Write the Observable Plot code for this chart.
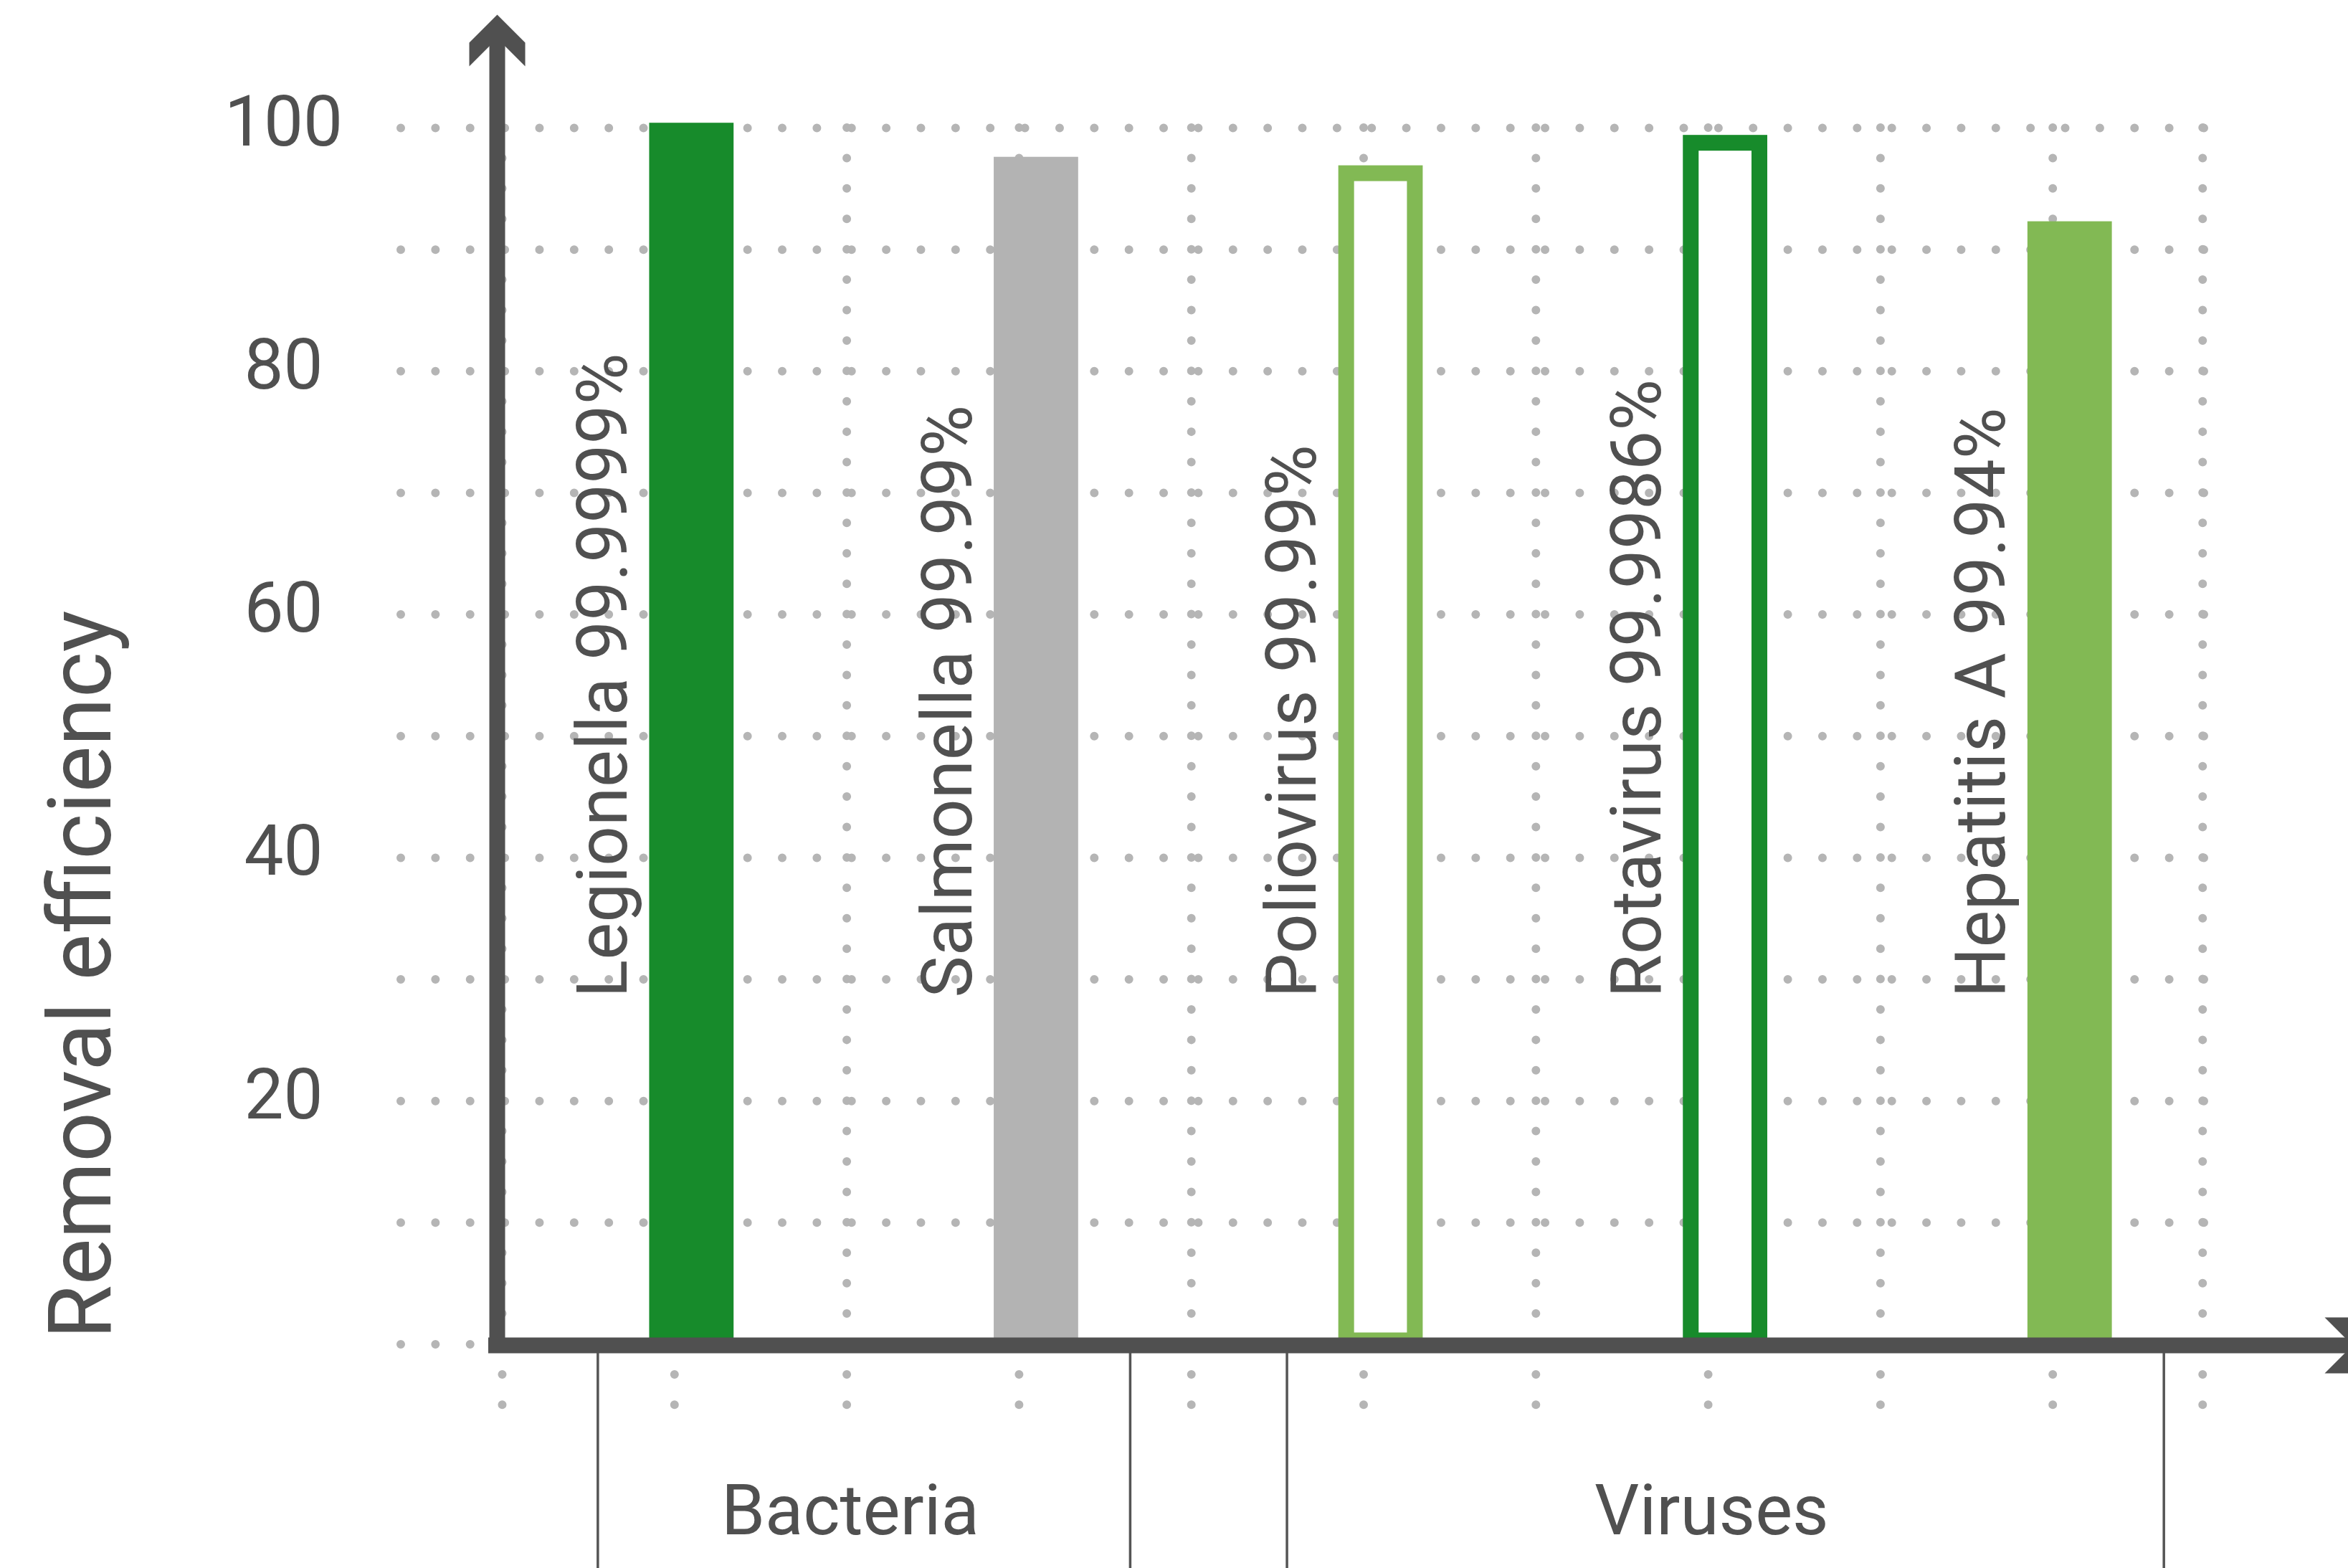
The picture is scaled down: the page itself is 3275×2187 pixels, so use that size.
<!DOCTYPE html>
<html>
<head>
<meta charset="utf-8">
<script src="https://cdn.jsdelivr.net/npm/d3@7"></script>
<script src="https://cdn.jsdelivr.net/npm/@observablehq/plot@0.6"></script>
<style>
  html, body { margin: 0; padding: 0; background: #fff; overflow: hidden; }
  #chart svg { display: block; overflow: hidden; }
</style>
</head>
<body>
<div id="chart"></div>
<script>
// ---------------- data ----------------
const organisms      = ["Legionella", "Salmonella", "Poliovirus", "Rotavirus", "Hepatitis A"];
const efficiencyText = ["99.9999%", "99.99%", "99.99%", "99.9986%", "99.94%"];
const groupOf        = ["Bacteria", "Bacteria", "Viruses", "Viruses", "Viruses"];
const barHeight      = [100.4, 97.6, 96.9, 99.4, 92.3];
const barStyle       = ["filled", "filled", "outline", "outline", "filled"];
const barColor       = ["#178b2b", "#b3b3b3", "#82b954", "#178b2b", "#82b954"];
const groupNames     = ["Bacteria", "Viruses"];
const yTickValues    = [20, 40, 60, 80, 100];
const gridValues     = [0, 10, 20, 30, 40, 50, 60, 70, 80, 90, 100];
const yTitle         = "Removal efficiency";

// ---------------- layout ----------------
const W = 3275, H = 2187;
const X0 = 700, XU = 240.3;      // px of grid column 0, px per grid column
const Y0 = 1874.5, YU = 16.965;  // px of value 0, px per value unit
const xDomain = [-X0 / XU, (W - X0) / XU];
const yDomain = [(Y0 - H) / YU, Y0 / YU];

const TEXT = "#505050";
const AXIS = "#505050";
const DOT = "#b5b5b5";

const slot = i => 2 * i + 1.1;   // bar centre in grid columns
const half = 0.245;              // half bar width in grid columns

const data = organisms.map((name, i) => ({
  name,
  label: name + " " + efficiencyText[i],
  group: groupOf[i],
  value: barHeight[i],
  style: barStyle[i],
  color: barColor[i],
  c: slot(i)
}));

const groups = groupNames.map(g => {
  const cs = data.filter(d => d.group === g).map(d => d.c);
  return {name: g, left: d3.min(cs) - 0.545, right: d3.max(cs) + 0.545, mid: d3.mean(cs) - 0.08};
});

const gridColumns = [0, 1, 2, 3, 4, 5, 6, 7, 8, 9, 9.87];
const hLeft = (559 - X0) / XU, hRight = (3074 - X0) / XU;
const hStep = (3074 - 559) / 52;
const vStep = 2.5 * YU;

const chevronUp = {
  draw(ctx) {
    ctx.moveTo(0, 0); ctx.lineTo(39, 39); ctx.lineTo(39, 72); ctx.lineTo(0, 33);
    ctx.lineTo(-39, 72); ctx.lineTo(-39, 39); ctx.closePath();
  }
};
const chevronRight = {
  draw(ctx) {
    ctx.moveTo(0, 0); ctx.lineTo(-39, 39); ctx.lineTo(-72, 39); ctx.lineTo(-33, 0);
    ctx.lineTo(-72, -39); ctx.lineTo(-39, -39); ctx.closePath();
  }
};

const axisY = -0.088;    // centre of x axis shaft
const axisX = -0.029;    // centre of y axis shaft
const axisBottom = -0.737;

const chart = Plot.plot({
  width: W,
  height: H,
  margin: 0,
  x: {domain: xDomain, axis: null},
  y: {domain: yDomain, axis: null},
  color: {type: "identity"},
  style: {background: "white", fontFamily: "Roboto, sans-serif", overflow: "hidden"},
  marks: [
    // dotted grid
    Plot.ruleY(gridValues, {x1: hLeft, x2: hRight, stroke: DOT, strokeWidth: 12,
      strokeLinecap: "round", strokeDasharray: `0 ${hStep}`}),
    Plot.ruleX(gridColumns, {y1: 100, y2: -5, stroke: DOT, strokeWidth: 12,
      strokeLinecap: "round", strokeDasharray: `0 ${vStep}`}),
    // filled bars
    Plot.rect(data.filter(d => d.style === "filled"), {
      x1: d => d.c - half, x2: d => d.c + half, y1: 0, y2: "value", fill: "color"
    }),
    // outline bars
    Plot.rect(data.filter(d => d.style === "outline"), {
      x1: d => d.c - half, x2: d => d.c + half, y1: 0, y2: "value",
      fill: "white", stroke: "color", strokeWidth: 22,
      insetLeft: 11, insetRight: 11, insetTop: 11, insetBottom: 5
    }),
    // axes
    Plot.ruleY([axisY], {x1: -0.079, x2: 10.82, stroke: AXIS, strokeWidth: 22}),
    Plot.ruleX([axisX], {y1: axisBottom, y2: 107.5, stroke: AXIS, strokeWidth: 22}),
    Plot.dot([[axisX, 109.31]], {x: d => d[0], y: d => d[1], symbol: chevronUp, fill: AXIS, stroke: null}),
    Plot.dot([[10.878, axisY]], {x: d => d[0], y: d => d[1], symbol: chevronRight, fill: AXIS, stroke: null}),
    // group brackets
    Plot.ruleX(groups.flatMap(g => [g.left, g.right]), {y1: axisBottom, y2: yDomain[0], stroke: "#555555", strokeWidth: 3.5}),
    Plot.text(groups, {x: "mid", y: -15.6, text: "name", textAnchor: "middle", lineAnchor: "bottom",
      fontSize: 98, fill: TEXT}),
    // bar labels
    Plot.text(data, {x: d => d.c - half, y: 28.5, text: "label", rotate: -90, textAnchor: "start",
      lineAnchor: "bottom", dx: -32, fontSize: 98, fill: TEXT}),
    // y tick labels
    Plot.text(yTickValues, {x: -1.269, y: d => d, text: d => String(d), textAnchor: "middle",
      lineAnchor: "bottom", dy: 24, fontSize: 98, fill: TEXT}),
    // y title
    Plot.text([yTitle], {x: -2.276, y: 0.44, text: d => d, rotate: -90, textAnchor: "start",
      lineAnchor: "bottom", fontSize: 122, fill: TEXT})
  ]
});

document.getElementById("chart").appendChild(chart);
</script>
</body>
</html>
